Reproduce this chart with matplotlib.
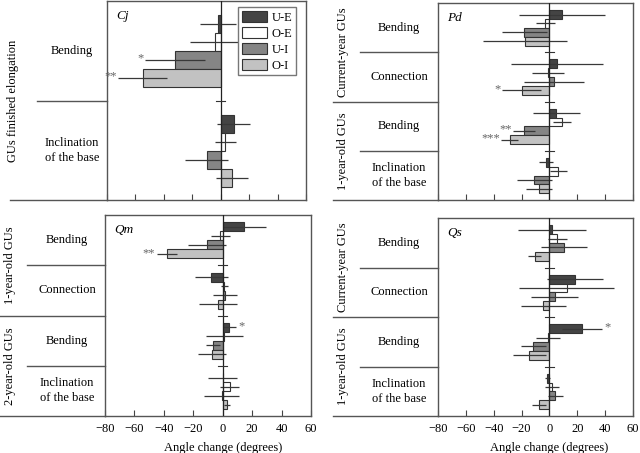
import numpy as np
import matplotlib
matplotlib.use("Agg")
import matplotlib.pyplot as plt
from matplotlib.transforms import blended_transform_factory

plt.rcParams['font.family'] = ['Liberation Serif', 'DejaVu Serif']
plt.rcParams['font.size'] = 9

series = ['U-E', 'O-E', 'U-I', 'O-I']
colors = ['#444444', '#ffffff', '#858585', '#c2c2c2']

# ---- Cj ----
cj_cats = ['Bending', 'Inclination\nof the base']
cj_groups = [('GUs finished elongation', 0, 2)]
cj_ue = [-2, 9];      cj_ue_err = [12.5, 11.5]
cj_oe = [-4, 3.3];    cj_oe_err = [17.5, 7.3]
cj_ui = [-32, -10];   cj_ui_err = [21, 15]
cj_oi = [-55, 8];     cj_oi_err = [17, 11.4]
cj_sig = [['', ''], ['', ''], ['*', ''], ['**', '']]

# ---- Pd ----
pd_cats = ['Bending', 'Connection', 'Bending', 'Inclination\nof the base']
pd_groups = [('Current-year GUs', 0, 2), ('1-year-old GUs', 2, 4)]
pd_ue = [9, 5.5, 5, -2.5];          pd_ue_err = [31, 33, 17, 5]
pd_oe = [-3, -1, 9, 6.5];           pd_oe_err = [7, 11.5, 6.5, 6]
pd_ui = [-18, 3.3, -18.5, -11];     pd_ui_err = [16, 21.5, 7.8, 12.5]
pd_oi = [-17.5, -20, -28.5, -7.4];  pd_oi_err = [30, 14, 6, 9.5]
pd_sig = [['', '', '', ''], ['', '', '', ''], ['', '', '**', ''], ['', '*', '***', '']]

# ---- Qm ----
qm_cats = ['Bending', 'Connection', 'Bending', 'Inclination\nof the base']
qm_groups = [('1-year-old GUs', 0, 2), ('2-year-old GUs', 2, 4)]
qm_ue = [14.6, -7.7, 4.5, 0];       qm_ue_err = [14.5, 11.4, 4.2, 10]
qm_oe = [-1.6, 1, 1, 4.8];          qm_oe_err = [6.6, 2.5, 12.5, 6.6]
qm_ui = [-10.7, 1.4, -6.6, -0.7];   qm_ui_err = [12.8, 8, 4.7, 12]
qm_oi = [-38, -3.4, -7.3, 3];       qm_oi_err = [7, 13, 9.5, 2]
qm_sig = [['', '', '*', ''], ['', '', '', ''], ['', '', '', ''], ['**', '', '', '']]

# ---- Qs ----
qs_cats = ['Bending', 'Connection', 'Bending', 'Inclination\nof the base']
qs_groups = [('Current-year GUs', 0, 2), ('1-year-old GUs', 2, 4)]
qs_ue = [1.7, 18.2, 23.4, -1.4];    qs_ue_err = [24.5, 20, 14.3, 1.7]
qs_oe = [5.7, 12.4, -0.7, 1.7];     qs_oe_err = [7, 34, 8.6, 5]
qs_ui = [10.5, 3.8, -11.5, 4.3];    qs_ui_err = [16.4, 17, 9, 5.2]
qs_oi = [-10.5, -4.3, -14.4, -7.4]; qs_oi_err = [4.8, 16, 12, 5]
qs_sig = [['', '', '*', ''], ['', '', '', ''], ['', '', '', ''], ['', '', '', '']]

W, H = 640, 453
fig = plt.figure(figsize=(6.4, 4.53), dpi=100)
line_col = '#555555'


def add_panel(x0, y0, x1, y1):
    return fig.add_axes([x0 / W, 1 - y1 / H, (x1 - x0) / W, (y1 - y0) / H])


def draw_panel(ax, name, cats, groups, vals, errs, sigs, x_line, x_cat, x_grp, x_catlab, labels):
    n = len(cats)
    offs = [-0.265, -0.085, 0.095, 0.275]
    for k in range(4):
        y = np.arange(n) + 0.5 + offs[k]
        ax.barh(y, vals[k], height=0.18, color=colors[k], edgecolor='#333333',
                linewidth=0.8, label=series[k], zorder=2)
        ax.errorbar(vals[k], y, xerr=errs[k], fmt='none', ecolor='#383838',
                    elinewidth=0.9, capsize=0, zorder=3)
        for i in range(n):
            s = sigs[k][i]
            if not s:
                continue
            if vals[k][i] < 0:
                ax.text(vals[k][i] - errs[k][i] - 1, y[i] - 0.02, s, ha='right',
                        va='center', color='#666666', fontsize=9)
            else:
                ax.text(vals[k][i] + errs[k][i] + 2, y[i] - 0.02, s, ha='left',
                        va='center', color='#666666', fontsize=9)
    ax.axvline(0, color='#222222', lw=0.9, zorder=4)
    for b in range(1, n):
        ax.plot([-3, 3], [b, b], color='#333333', lw=0.8, zorder=4)
    ax.set_xlim(-80, 60)
    ax.set_ylim(n, 0)
    ax.set_yticks([])
    ax.set_xticks(range(-80, 61, 20))
    ax.tick_params(axis='x', direction='in', length=4, color='#444444', pad=5,
                   labelbottom=labels)
    for sp in ax.spines.values():
        sp.set_color(line_col)
        sp.set_linewidth(1.0)
    ax.text(0.045, 0.955, name, transform=ax.transAxes, style='italic',
            ha='left', va='top', fontsize=9.5)

    left = ax.get_position().x0
    tr = blended_transform_factory(fig.transFigure, ax.transData)
    ax.plot([x_line / W, left], [n, n], transform=tr, color=line_col, lw=1.0, clip_on=False)
    starts = [g[1] for g in groups]
    for b in range(1, n):
        x0 = x_grp if b in starts else x_cat
        ax.plot([x0 / W, left], [b, b], transform=tr, color=line_col, lw=1.0, clip_on=False)
    for i, c in enumerate(cats):
        ax.text(x_catlab / W, i + 0.5, c, transform=tr, ha='center', va='center',
                linespacing=1.35, fontsize=9)
    for g, a, b in groups:
        ax.text(x_grp / W + 10 / W, (a + b) / 2, g, transform=tr, rotation=90,
                ha='center', va='center', fontsize=9)
    if labels:
        ax.set_xlabel('Angle change (degrees)', fontsize=9)
        ax.xaxis.set_label_coords(80 / 140, -0.13)


ax_cj = add_panel(107, 1, 306, 200)
draw_panel(ax_cj, 'Cj', cj_cats, cj_groups, [cj_ue, cj_oe, cj_ui, cj_oi],
           [cj_ue_err, cj_oe_err, cj_ui_err, cj_oi_err], cj_sig,
           10, 37, 3, 72, False)
ax_cj.legend(loc='upper right', bbox_to_anchor=(0.95, 0.97), borderaxespad=0,
             frameon=True, fancybox=False, edgecolor='#777777', framealpha=1,
             handlelength=2.0, handleheight=1.0, labelspacing=0.25,
             handletextpad=0.4, borderpad=0.3, fontsize=9)

ax_pd = add_panel(438, 3, 633, 200)
draw_panel(ax_pd, 'Pd', pd_cats, pd_groups, [pd_ue, pd_oe, pd_ui, pd_oi],
           [pd_ue_err, pd_oe_err, pd_ui_err, pd_oi_err], pd_sig,
           333, 360, 333, 399, False)

ax_qm = add_panel(105, 215, 311, 416)
draw_panel(ax_qm, 'Qm', qm_cats, qm_groups, [qm_ue, qm_oe, qm_ui, qm_oi],
           [qm_ue_err, qm_oe_err, qm_ui_err, qm_oi_err], qm_sig,
           0, 27, 0, 67, True)

ax_qs = add_panel(438, 218, 633, 416)
draw_panel(ax_qs, 'Qs', qs_cats, qs_groups, [qs_ue, qs_oe, qs_ui, qs_oi],
           [qs_ue_err, qs_oe_err, qs_ui_err, qs_oi_err], qs_sig,
           333, 360, 333, 399, True)

fig.savefig('out.png', dpi=100)
